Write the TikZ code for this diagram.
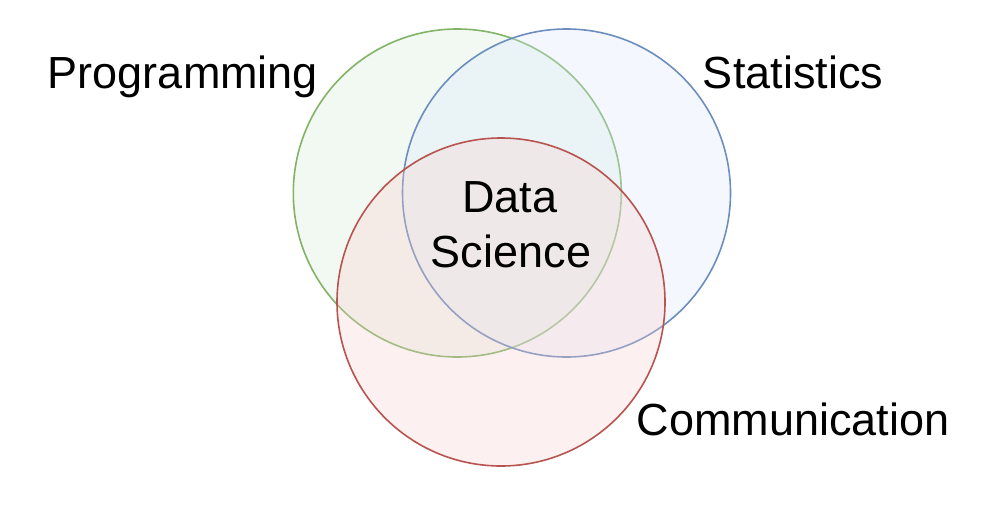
\documentclass[tikz,border=0pt]{standalone}
\usepackage{fontspec}
\setmainfont{Liberation Sans}
\definecolor{gstroke}{HTML}{82B366}
\definecolor{gfill}{HTML}{D5E8D4}
\definecolor{bstroke}{HTML}{6C8EBF}
\definecolor{bfill}{HTML}{DAE8FC}
\definecolor{rstroke}{HTML}{B85450}
\definecolor{rfill}{HTML}{F8CECC}
\begin{document}
\begin{tikzpicture}[x=1pt,y=-1pt,
  venn/.style={circle, minimum size=328pt, inner sep=0pt, line width=1.6pt, fill opacity=0.3, draw opacity=1},
  lbl/.style={font=\fontsize{45}{55}\selectfont, inner sep=0pt, anchor=base, align=center}]
\useasboundingbox (0,0) rectangle (1000,506);
\node[venn, draw=gstroke, fill=gfill] (prog) at (457.3,193) {};
\node[venn, draw=bstroke, fill=bfill] (stat) at (566.5,193) {};
\node[venn, draw=rstroke, fill=rfill] (comm) at (501,302) {};
\node[lbl] (lprog) at (183,88) {Programming};
\node[lbl] (lstat) at (793,88) {Statistics};
\node[lbl] (lcomm) at (793,435) {Communication};
\node[lbl] (ldata) at (510,212) {Data};
\node[lbl] (lsci) at (511,267) {Science};
\end{tikzpicture}
\end{document}
